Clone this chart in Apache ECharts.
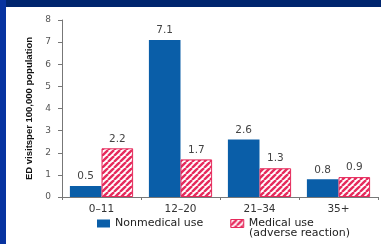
<!DOCTYPE html>
<html><head><meta charset="utf-8">
<script src="https://cdn.jsdelivr.net/npm/echarts@6/dist/echarts.min.js"></script>
<style>html,body{margin:0;padding:0;background:#fff}#c{width:381px;height:244px}</style>
</head><body><div id="c"></div>
<script>
const categories = ['0\u201311', '12\u201320', '21\u201334', '35+'];
const nonmedical = [0.5, 7.1, 2.6, 0.8];
const medical = [2.2, 1.7, 1.3, 0.9];
const yTicks = [0, 1, 2, 3, 4, 5, 6, 7, 8];
const legendNames = ['Nonmedical use', 'Medical use'];
const legendSub = '(adverse reaction)';

const blue = '#0a5ea8';
const red = '#e62a5c';
function stripes() {
  const c = document.createElement('canvas');
  c.width = 6; c.height = 6;
  const g = c.getContext('2d');
  g.fillStyle = '#ffffff'; g.fillRect(0, 0, 6, 6);
  g.strokeStyle = red; g.lineWidth = 2.4;
  for (let k = -6; k <= 12; k += 6) {
    g.beginPath(); g.moveTo(k, 6); g.lineTo(k + 6, 0); g.stroke();
  }
  return c;
}
const pat = { image: stripes(), repeat: 'repeat' };
const font = 'DejaVu Sans, sans-serif';
const chart = echarts.init(document.getElementById('c'), null, { renderer: 'canvas' });
chart.setOption({
  backgroundColor: '#ffffff',
  animation: false,
  graphic: [
    { type: 'rect', left: 0, top: 0, shape: { width: 381, height: 7 }, style: { fill: '#00256e' }, z: 100 },
    { type: 'rect', left: 0, top: 0, shape: { width: 6, height: 244 }, style: { fill: '#0733a0' }, z: 100 },
    { type: 'text', left: 249, top: 228, style: { text: legendSub, font: '11px DejaVu Sans', fill: '#222' } }
  ],
  grid: { left: 62, right: 3, top: 20, bottom: 47 },
  legend: {
    left: 97, top: 218, padding: 0, itemWidth: 13, itemHeight: 8, itemGap: 27,
    textStyle: { fontFamily: font, fontSize: 11, color: '#222' },
    data: [
      { name: legendNames[0], icon: 'rect', itemStyle: { color: blue, borderWidth: 0 } },
      { name: legendNames[1], icon: 'rect', itemStyle: { color: pat, borderColor: red, borderWidth: 1 } }
    ]
  },
  xAxis: {
    type: 'category', data: categories,
    axisLine: { lineStyle: { color: '#777' } },
    axisTick: { show: true, alignWithLabel: false, length: 3, lineStyle: { color: '#777' } },
    axisLabel: { fontFamily: font, fontSize: 10.5, color: '#333', margin: 7 }
  },
  yAxis: {
    type: 'value', min: 0, max: 8, interval: 1,
    name: 'ED visitsper 100,000 population', nameLocation: 'middle', nameGap: 25,
    nameTextStyle: { fontFamily: 'Liberation Sans, Arial, sans-serif', fontSize: 9.5, fontWeight: 'bold', color: '#111' },
    axisLine: { show: true, lineStyle: { color: '#777' } },
    axisTick: { show: true, length: 4, lineStyle: { color: '#777' } },
    splitLine: { show: false },
    axisLabel: { fontFamily: font, fontSize: 9, color: '#555', margin: 11,
      formatter: v => yTicks.includes(v) ? String(v) : '' }
  },
  series: [
    { name: legendNames[0], type: 'bar', data: nonmedical, barGap: '0%', barCategoryGap: '20%',
      itemStyle: { color: blue },
      label: { show: true, position: 'top', distance: 4, fontFamily: font, fontSize: 10.5, color: '#444', formatter: p => p.value.toFixed(1) } },
    { name: legendNames[1], type: 'bar', data: medical,
      itemStyle: { color: pat, borderColor: red, borderWidth: 1 },
      label: { show: true, position: 'top', distance: 4, fontFamily: font, fontSize: 10.5, color: '#444', formatter: p => p.value.toFixed(1) } }
  ]
});
</script></body></html>
